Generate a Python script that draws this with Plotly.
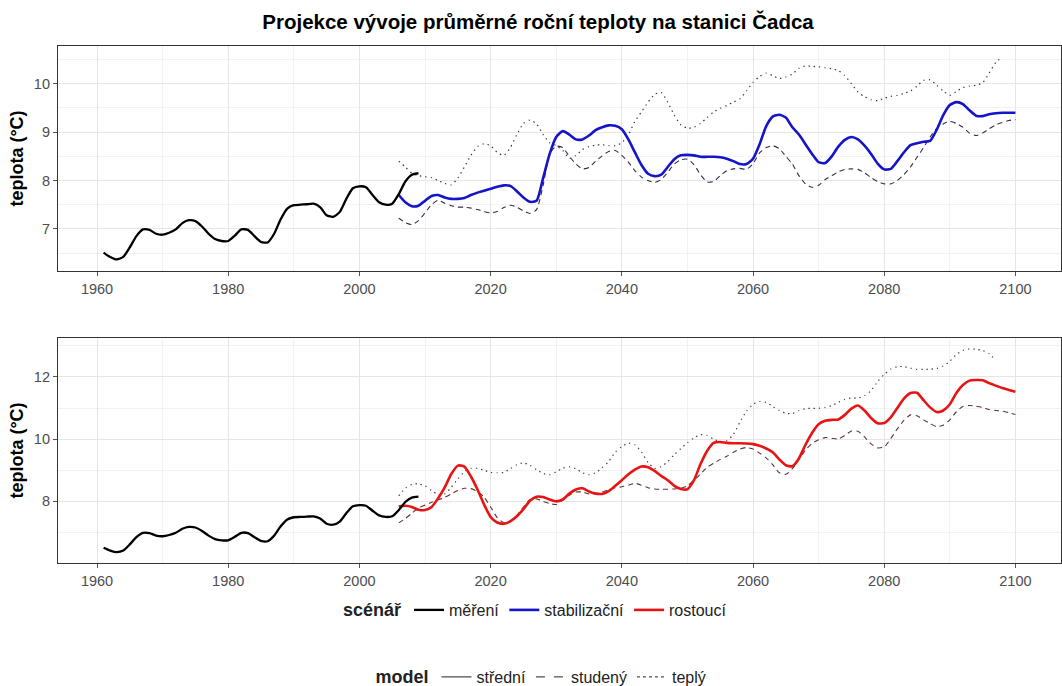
import plotly.graph_objects as go
from plotly.subplots import make_subplots

# measured series (smoothed annual means)
years_obs = list(range(1961, 2010))
obs = [6.51, 6.42, 6.37, 6.42, 6.62, 6.85, 6.99, 6.98, 6.90, 6.88,
       6.92, 6.99, 7.12, 7.18, 7.16, 7.05, 6.90, 6.79, 6.75, 6.75,
       6.86, 6.99, 6.98, 6.85, 6.73, 6.72, 6.90, 7.20, 7.42, 7.49,
       7.50, 7.51, 7.52, 7.45, 7.28, 7.25, 7.35, 7.62, 7.84, 7.88,
       7.86, 7.70, 7.55, 7.50, 7.52, 7.72, 7.98, 8.12, 8.15]

years_proj = list(range(2006, 2101))
years_warm = list(range(2006, 2099))

# stabilizing scenario
stab_mid = [7.70, 7.55, 7.47, 7.48, 7.58, 7.68, 7.70, 7.65, 7.62, 7.62,
            7.64, 7.70, 7.75, 7.79, 7.83, 7.87, 7.90, 7.89, 7.78, 7.65,
            7.56, 7.58, 8.05, 8.55, 8.90, 9.02, 8.95, 8.85, 8.85, 8.93,
            9.04, 9.10, 9.14, 9.13, 9.06, 8.85, 8.58, 8.32, 8.14, 8.09,
            8.12, 8.28, 8.44, 8.52, 8.53, 8.52, 8.49, 8.49, 8.49, 8.48,
            8.45, 8.40, 8.34, 8.34, 8.45, 8.75, 9.12, 9.32, 9.36, 9.30,
            9.10, 8.95, 8.75, 8.55, 8.38, 8.36, 8.50, 8.70, 8.84, 8.90,
            8.85, 8.72, 8.55, 8.35, 8.23, 8.24, 8.40, 8.58, 8.73, 8.77,
            8.80, 8.82, 9.05, 9.35, 9.56, 9.62, 9.58, 9.45, 9.34, 9.33,
            9.37, 9.39, 9.40, 9.40, 9.40]
stab_cold = [7.22, 7.13, 7.09, 7.17, 7.33, 7.50, 7.59, 7.53, 7.48, 7.45,
             7.45, 7.43, 7.40, 7.36, 7.33, 7.36, 7.44, 7.49, 7.45, 7.37,
             7.32, 7.40, 7.90, 8.55, 8.71, 8.68, 8.50, 8.34, 8.24, 8.27,
             8.40, 8.51, 8.60, 8.62, 8.52, 8.38, 8.20, 8.07, 8.00, 7.96,
             8.02, 8.17, 8.34, 8.43, 8.44, 8.33, 8.12, 7.97, 7.98, 8.10,
             8.20, 8.24, 8.25, 8.23, 8.35, 8.57, 8.68, 8.72, 8.66, 8.50,
             8.34, 8.10, 7.93, 7.86, 7.90, 8.02, 8.10, 8.18, 8.23, 8.24,
             8.23, 8.16, 8.06, 7.98, 7.93, 7.93, 8.00, 8.12, 8.28, 8.48,
             8.68, 8.90, 9.07, 9.17, 9.22, 9.18, 9.10, 8.98, 8.93, 8.98,
             9.07, 9.15, 9.20, 9.24, 9.26]
stab_warm = [8.40, 8.28, 8.15, 8.10, 8.08, 8.06, 8.00, 7.94, 7.91, 8.05,
             8.28, 8.52, 8.70, 8.76, 8.72, 8.58, 8.52, 8.68, 8.95, 9.18,
             9.25, 9.17, 8.95, 8.78, 8.72, 8.62, 8.46, 8.52, 8.64, 8.70,
             8.73, 8.74, 8.72, 8.72, 8.78, 8.95, 9.22, 9.42, 9.62, 9.78,
             9.82, 9.62, 9.35, 9.15, 9.08, 9.10, 9.18, 9.30, 9.42, 9.49,
             9.55, 9.62, 9.69, 9.85, 10.03, 10.15, 10.22, 10.17, 10.11, 10.14,
             10.20, 10.32, 10.37, 10.36, 10.35, 10.33, 10.31, 10.27, 10.17, 10.00,
             9.83, 9.73, 9.67, 9.65, 9.70, 9.74, 9.76, 9.80, 9.85, 9.95,
             10.07, 10.08, 9.97, 9.85, 9.76, 9.84, 9.92, 9.95, 9.97, 10.02,
             10.22, 10.44, 10.55]

# rising scenario
rise_mid = [7.84, 7.86, 7.82, 7.73, 7.72, 7.82, 8.10, 8.45, 8.88, 9.15,
            9.12, 8.80, 8.38, 7.90, 7.50, 7.32, 7.28, 7.36, 7.52, 7.75,
            8.02, 8.15, 8.14, 8.06, 8.00, 8.06, 8.25, 8.38, 8.42, 8.32,
            8.25, 8.24, 8.33, 8.50, 8.68, 8.87, 9.02, 9.12, 9.10, 8.98,
            8.82, 8.68, 8.50, 8.40, 8.39, 8.68, 9.20, 9.62, 9.88, 9.91,
            9.88, 9.87, 9.87, 9.86, 9.84, 9.79, 9.70, 9.58, 9.35, 9.16,
            9.13, 9.38, 9.82, 10.20, 10.48, 10.59, 10.62, 10.63, 10.78, 10.98,
            11.08, 10.92, 10.68, 10.51, 10.52, 10.70, 11.00, 11.30, 11.48, 11.49,
            11.25, 11.02, 10.87, 10.92, 11.12, 11.48, 11.74, 11.88, 11.90, 11.89,
            11.80, 11.72, 11.64, 11.58, 11.52]
rise_cold = [7.31, 7.45, 7.62, 7.79, 7.88, 7.97, 8.05, 8.13, 8.24, 8.35,
             8.42, 8.41, 8.32, 8.14, 7.82, 7.48, 7.32, 7.38, 7.55, 7.82,
             8.06, 8.08, 8.00, 7.93, 7.90, 8.04, 8.20, 8.30, 8.30, 8.24,
             8.25, 8.30, 8.38, 8.44, 8.47, 8.52, 8.58, 8.52, 8.44, 8.40,
             8.39, 8.39, 8.40, 8.42, 8.50, 8.68, 8.88, 9.10, 9.22, 9.35,
             9.45, 9.58, 9.68, 9.73, 9.68, 9.55, 9.40, 9.18, 8.92, 8.87,
             9.05, 9.35, 9.65, 9.86, 9.98, 10.05, 10.03, 10.01, 10.12, 10.26,
             10.25, 10.07, 9.85, 9.72, 9.75, 10.02, 10.33, 10.60, 10.78, 10.75,
             10.62, 10.50, 10.40, 10.45, 10.62, 10.88, 11.05, 11.08, 11.06, 11.02,
             10.95, 10.92, 10.90, 10.85, 10.79]
rise_warm = [8.18, 8.42, 8.55, 8.56, 8.50, 8.35, 8.22, 8.24, 8.45, 8.72,
             8.95, 9.06, 9.06, 9.00, 8.93, 8.92, 8.93, 9.05, 9.18, 9.24,
             9.16, 9.02, 8.90, 8.86, 8.95, 9.07, 9.11, 9.05, 8.92, 8.86,
             8.92, 9.08, 9.28, 9.58, 9.76, 9.87, 9.82, 9.58, 9.25, 9.06,
             9.12, 9.28, 9.50, 9.70, 9.88, 10.04, 10.14, 10.12, 10.00, 9.92,
             9.95, 10.15, 10.55, 10.90, 11.12, 11.21, 11.18, 11.05, 10.92, 10.83,
             10.82, 10.92, 10.98, 10.99, 10.99, 11.02, 11.08, 11.18, 11.28, 11.32,
             11.32, 11.40, 11.56, 11.85, 12.08, 12.25, 12.33, 12.33, 12.28, 12.24,
             12.24, 12.25, 12.27, 12.35, 12.50, 12.72, 12.85, 12.90, 12.89, 12.85,
             12.75, 12.52]
years_rise_warm = list(range(2006, 2098))

x_ticks = [1960, 1980, 2000, 2020, 2040, 2060, 2080, 2100]
scenario_names = ["měření", "stabilizační", "rostoucí"]
model_names = ["střední", "studený", "teplý"]

FONT = "Liberation Sans, Arial, sans-serif"
C_OBS = "#000000"
C_STAB = "#1414c8"
C_RISE = "#e81414"
C_STAB_THIN = "#2e2e4e"
C_RISE_THIN = "#5e3434"
DASH = "5px,4px"
DOT = "1.3px,4px"

fig = make_subplots(rows=2, cols=1, vertical_spacing=0.13)


def line(x, y, color, width, dash="solid", row=1, **kw):
    fig.add_trace(go.Scatter(x=x, y=y, mode="lines",
                             line=dict(color=color, width=width, dash=dash,
                                       shape="spline", smoothing=0.6),
                             hoverinfo="skip", **kw), row=row, col=1)


# upper panel: stabilizing scenario
line(years_warm, stab_warm, C_STAB_THIN, 1.2, DOT, row=1, showlegend=False)
line(years_proj, stab_cold, C_STAB_THIN, 1.1, DASH, row=1, showlegend=False)
line(years_proj, stab_mid, C_STAB, 2.6, row=1, name=scenario_names[1],
     legend="legend", legendrank=2)
line(years_obs, obs, C_OBS, 2.3, row=1, name=scenario_names[0],
     legend="legend", legendrank=1)

# lower panel: rising scenario
line(years_rise_warm, rise_warm, C_RISE_THIN, 1.2, DOT, row=2, showlegend=False)
line(years_proj, rise_cold, C_RISE_THIN, 1.1, DASH, row=2, showlegend=False)
line(years_proj, rise_mid, C_RISE, 2.6, row=2, name=scenario_names[2],
     legend="legend", legendrank=3)
line(years_obs, obs, C_OBS, 2.3, row=2, showlegend=False)

# model legend keys
for nm, dsh in zip(model_names, ["solid", "dash", "dot"]):
    fig.add_trace(go.Scatter(x=[None], y=[None], mode="lines", name=nm,
                             line=dict(color="#222222", width=1, dash=dsh),
                             legend="legend2"), row=1, col=1)

axis_common = dict(showline=True, mirror=True, linecolor="#333333", linewidth=1.2,
                   gridcolor="#e6e6e6", gridwidth=1, zeroline=False,
                   ticks="outside", ticklen=4, tickcolor="#555555",
                   tickfont=dict(family=FONT, size=14.5, color="#4d4d4d"))

for r in (1, 2):
    fig.update_xaxes(range=[1954.05, 2106.95], tickvals=x_ticks,
                     minor=dict(tickvals=[1970, 1990, 2010, 2030, 2050, 2070, 2090],
                                showgrid=True, gridcolor="#f2f2f2", gridwidth=1, ticks=""),
                     row=r, col=1, **axis_common)

ytitle = dict(text="<b>teplota (°C)</b>", standoff=5,
              font=dict(family=FONT, size=18, color="#000"))
fig.update_yaxes(range=[6.13, 10.78], tickvals=[7, 8, 9, 10],
                 minor=dict(tickvals=[6.5, 7.5, 8.5, 9.5, 10.5], showgrid=True,
                            gridcolor="#f2f2f2", gridwidth=1, ticks=""),
                 title=ytitle, row=1, col=1, **axis_common)
fig.update_yaxes(range=[6.02, 13.25], tickvals=[8, 10, 12],
                 minor=dict(tickvals=[7, 9, 11, 13], showgrid=True,
                            gridcolor="#f2f2f2", gridwidth=1, ticks=""),
                 title=ytitle, row=2, col=1, **axis_common)

fig.update_layout(
    width=1062, height=686,
    margin=dict(l=58, r=1, t=46, b=123, autoexpand=False),
    paper_bgcolor="white", plot_bgcolor="white",
    font=dict(family=FONT, color="#000"),
    title=dict(text="<b>Projekce vývoje průměrné roční teploty na stanici Čadca</b>",
               x=538 / 1062, xanchor="center", y=1 - 22 / 686, yanchor="middle",
               font=dict(family=FONT, size=20.5, color="#000")),
    legend=dict(orientation="h", x=0.477, xanchor="center",
                y=(563 - 610) / 517, yanchor="middle",
                title=dict(text="<b>scénář</b>", side="left",
                           font=dict(family=FONT, size=18)),
                font=dict(family=FONT, size=16, color="#222"),
                itemwidth=30, traceorder="normal", bgcolor="rgba(0,0,0,0)"),
    legend2=dict(orientation="h", x=0.483, xanchor="center",
                 y=(563 - 677) / 517, yanchor="middle",
                 title=dict(text="<b>model</b>", side="left",
                            font=dict(family=FONT, size=18)),
                 font=dict(family=FONT, size=16, color="#222"),
                 itemwidth=30, traceorder="normal", bgcolor="rgba(0,0,0,0)"),
)

# panel heights: upper 46..271 px, lower 338..563 px
fig.update_yaxes(domain=[(563 - 271) / 517, 1.0], row=1, col=1)
fig.update_yaxes(domain=[0.0, (563 - 338) / 517], row=2, col=1)

fig.write_html("out.html")
